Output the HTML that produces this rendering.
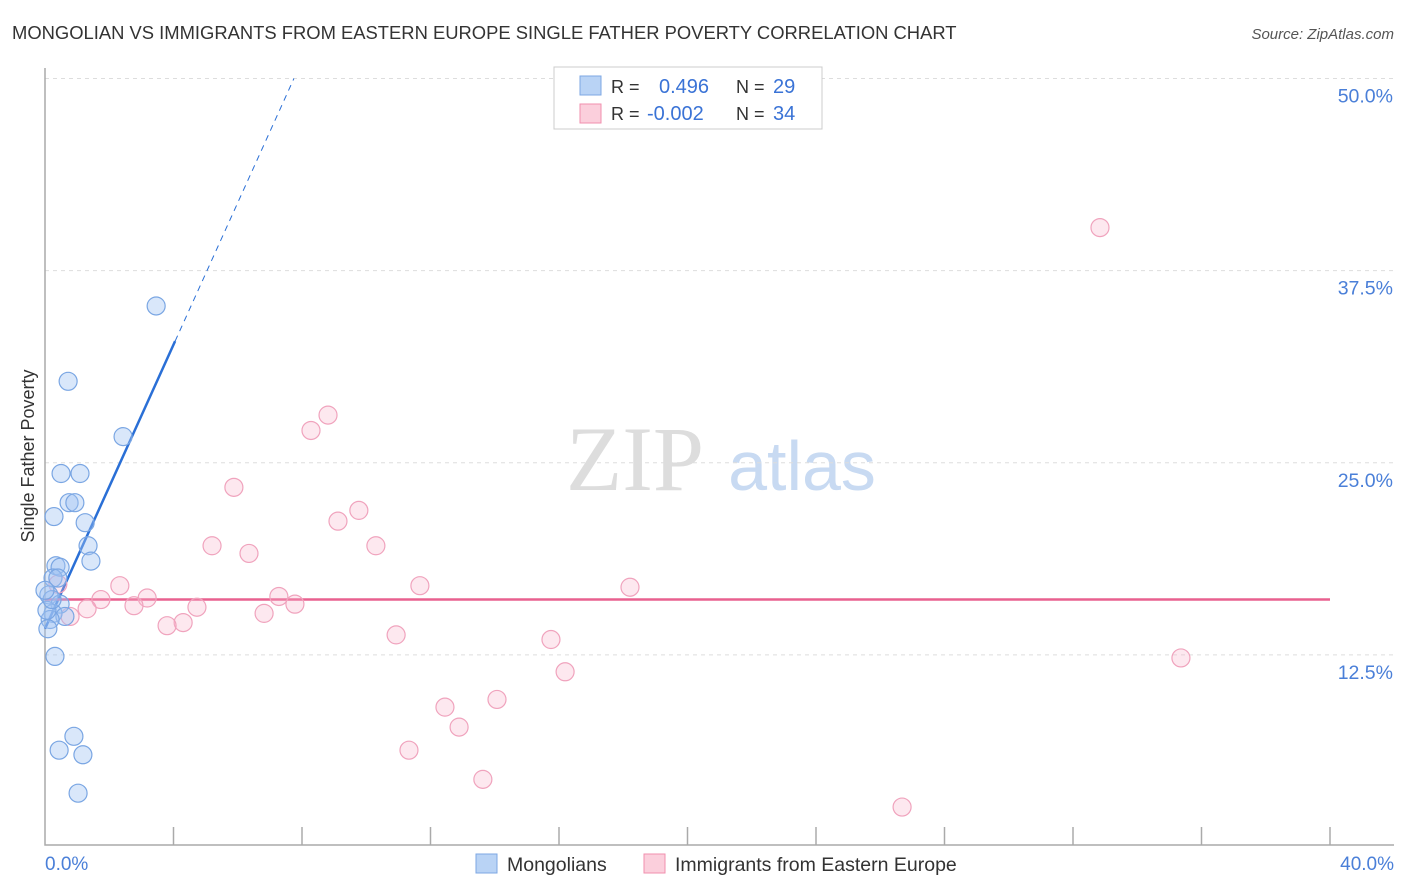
<!DOCTYPE html>
<html><head><meta charset="utf-8"><style>
body{margin:0;background:#fff;width:1406px;height:892px;overflow:hidden;font-family:"Liberation Sans",sans-serif}
svg{position:absolute;left:0;top:0}
</style></head><body>
<svg id="chart" width="1406" height="892">
<text x="12" y="39" font-size="18.4" fill="#333">MONGOLIAN VS IMMIGRANTS FROM EASTERN EUROPE SINGLE FATHER POVERTY CORRELATION CHART</text>
<text x="1394" y="39" font-size="15" fill="#555" font-style="italic" text-anchor="end">Source: ZipAtlas.com</text>
<g>
<text x="635" y="490" font-size="92" fill="#ddd" font-family="Liberation Serif,serif" text-anchor="middle">ZIP</text>
<text x="802" y="490" font-size="70" fill="#c8daf2" text-anchor="middle">atlas</text>
</g>
<g id="grid"></g>
<g id="axes"></g>
<g id="lines"></g>
<g id="points"></g>
<text transform="translate(34,456) rotate(-90)" font-size="18" fill="#333" text-anchor="middle">Single Father Poverty</text>
<text x="45" y="870" font-size="19" fill="#4a7fd8">0.0%</text>
<text x="1394" y="870" font-size="19" fill="#4a7fd8" text-anchor="end">40.0%</text>
<g>
<rect x="554" y="67" width="268" height="62" fill="#fff" stroke="#ccc"/>
<rect x="580" y="76" width="21" height="19" fill="#b9d3f5" stroke="#7da7e3"/>
<rect x="580" y="104" width="21" height="19" fill="#fbcfdc" stroke="#f08fae"/>
<text x="611" y="93" font-size="18" fill="#333">R = </text><text x="659" y="93" font-size="20" fill="#3a73d6">0.496</text>
<text x="736" y="93" font-size="18" fill="#333">N = </text><text x="773" y="93" font-size="20" fill="#3a73d6">29</text>
<text x="611" y="120" font-size="18" fill="#333">R = </text><text x="647" y="120" font-size="20" fill="#3a73d6">-0.002</text>
<text x="736" y="120" font-size="18" fill="#333">N = </text><text x="773" y="120" font-size="20" fill="#3a73d6">34</text>
</g>
<g>
<rect x="476" y="854" width="21" height="19" fill="#b9d3f5" stroke="#7da7e3"/>
<text x="507" y="871" font-size="19.5" fill="#333">Mongolians</text>
<rect x="644" y="854" width="21" height="19" fill="#fbcfdc" stroke="#f08fae"/>
<text x="675" y="871" font-size="19.5" fill="#333">Immigrants from Eastern Europe</text>
</g>
</svg>
<script>
const yTicks=[12.5,25.0,37.5,50.0];
const xTicks=[4,8,12,16,20,24,28,32,36,40];
const blueX=[3.46,0.72,2.43,0.50,1.09,0.75,0.93,0.28,1.25,1.34,1.43,0.34,0.47,0.25,0.40,0.12,0.47,0.25,0.62,0.16,0.09,0.31,0.90,0.44,1.18,1.03,0.06,0.22,0.0];
const blueY=[35.2,30.3,26.7,24.3,24.3,22.4,22.4,21.5,21.1,19.6,18.6,18.3,18.2,17.5,17.5,16.4,15.8,15.2,15.0,14.8,14.2,12.4,7.2,6.3,6.0,3.5,15.4,16.1,16.7];
const pinkX=[32.84,8.81,8.28,5.88,9.77,9.12,5.20,10.30,6.35,2.33,11.67,18.21,0.40,1.74,3.18,7.28,2.77,1.31,4.73,7.78,6.82,0.78,4.30,3.80,10.93,15.75,35.36,16.19,14.07,12.45,12.89,11.33,13.63,26.68];
const pinkY=[40.3,28.1,27.1,23.4,21.9,21.2,19.6,19.6,19.1,17.0,17.0,16.9,17.1,16.1,16.2,16.3,15.7,15.5,15.6,15.8,15.2,15.0,14.6,14.4,13.8,13.5,12.3,11.4,9.6,9.1,7.8,6.3,4.4,2.6];
const blueFit=[14.2,4.62];   // intercept, slope
const pinkFit=[16.1,0.0];
const NS='http://www.w3.org/2000/svg';
const X=v=>45+v*32.125, Y=v=>847-v*15.37;
function mk(tag,attrs,parent){const e=document.createElementNS(NS,tag);for(const k in attrs)e.setAttribute(k,attrs[k]);document.getElementById(parent).appendChild(e);return e;}
yTicks.forEach(t=>{
 const g=mk('line',{x1:45,x2:1394,y1:Y(t),y2:Y(t),stroke:'#ddd','stroke-dasharray':'4,4'},'grid');
 
 
 const l=mk('text',{x:1393,y:Y(t)+24,'font-size':19.5,fill:'#4a7fd8','text-anchor':'end'},'grid');
 l.textContent=t.toFixed(1)+'%';
 
 
});
const ax=mk('path',{d:'M45,68V845H1394',stroke:'#aaa',fill:'none','stroke-width':1.5},'axes');


xTicks.forEach(t=>{
 const k=mk('line',{x1:X(t),x2:X(t),y1:827,y2:845,stroke:'#aaa','stroke-width':1.5},'axes');
 
 
});
const bx1=4.05, bx2=(50-blueFit[0])/blueFit[1];
const b1=mk('line',{x1:X(0),y1:Y(blueFit[0]),x2:X(bx1),y2:Y(blueFit[0]+blueFit[1]*bx1),stroke:'#2a6fd6','stroke-width':2.5},'lines');


const b2=mk('line',{x1:X(bx1),y1:Y(blueFit[0]+blueFit[1]*bx1),x2:X(bx2),y2:Y(50),stroke:'#2a6fd6','stroke-width':1,'stroke-dasharray':'6,5'},'lines');


const p1=mk('line',{x1:X(0),y1:Y(pinkFit[0]),x2:X(40),y2:Y(pinkFit[0]+pinkFit[1]*40),stroke:'#e8608f','stroke-width':2.5},'lines');


pinkX.forEach((x,i)=>{
 const c=mk('circle',{cx:X(x),cy:Y(pinkY[i]),r:9,fill:'rgba(248,180,202,0.3)',stroke:'#f0a3bd','stroke-width':1.2},'points');
 
 
});
blueX.forEach((x,i)=>{
 const c=mk('circle',{cx:X(x),cy:Y(blueY[i]),r:9,fill:'rgba(160,196,242,0.4)',stroke:'#7aa6e3','stroke-width':1.2},'points');
 
 
});
</script>
</body></html>
